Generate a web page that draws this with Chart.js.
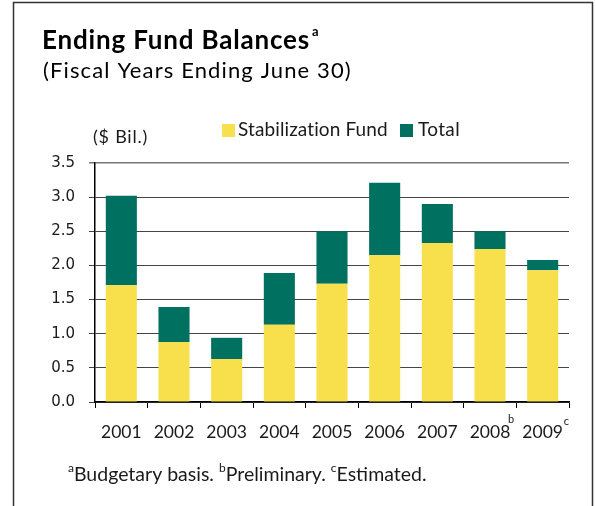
<!DOCTYPE html>
<html>
<head>
<meta charset="utf-8">
<script src="https://cdn.jsdelivr.net/npm/chart.js@4"></script>
<style>
  html, body { margin: 0; padding: 0; background: #fff; }
  #wrap { width: 596px; height: 506px; position: relative; }
</style>
</head>
<body>
<div id="wrap"><canvas id="chart" width="596" height="506"></canvas></div>
<script>
(function() {
    'use strict';

    var years = ['2001', '2002', '2003', '2004', '2005', '2006', '2007', '2008', '2009'];
    var yearNotes = ['', '', '', '', '', '', '', 'b', 'c'];
    var stabilization = [1.71, 0.88, 0.63, 1.13, 1.73, 2.15, 2.33, 2.24, 1.93];
    var total = [3.02, 1.39, 0.94, 1.89, 2.50, 3.21, 2.90, 2.50, 2.08];
    var yTicks = [0, 0.5, 1.0, 1.5, 2.0, 2.5, 3.0, 3.5];

    var YELLOW = '#F8E04C';
    var GREEN = '#007060';
    var TEXT = '#1a1a1a';
    var SANS = 'Lato, "DejaVu Sans", sans-serif';

    // green part sits on top of the yellow one, up to the total
    var remainder = total.map(function(t, i) {
        return Math.round((t - stabilization[i]) * 100) / 100;
    });

    // draw text with its letter spacing stretched to a given width
    function fitText(ctx, text, x, y, width) {
        ctx.letterSpacing = '0px';
        var w = ctx.measureText(text).width;
        var sp = (width - w) / text.length;
        ctx.letterSpacing = sp.toFixed(2) + 'px';
        ctx.fillText(text, x, y);
        var out = ctx.measureText(text).width;
        ctx.letterSpacing = '0px';
        return out;
    }

    var decor = {
        id: 'decor',
        afterDraw: function(chart) {
            var ctx = chart.ctx;
            ctx.save();

            // frame (open at the bottom)
            ctx.strokeStyle = '#333';
            ctx.lineWidth = 1.5;
            ctx.beginPath();
            ctx.moveTo(13.5, 520);
            ctx.lineTo(13.5, 2.5);
            ctx.lineTo(592.5, 2.5);
            ctx.lineTo(592.5, 520);
            ctx.stroke();

            ctx.fillStyle = '#000';
            ctx.textBaseline = 'alphabetic';
            ctx.textAlign = 'left';

            ctx.font = 'bold 26px ' + SANS;
            fitText(ctx, 'Ending Fund Balances', 42, 49, 268);
            ctx.font = 'bold 13px ' + SANS;
            ctx.fillText('a', 312, 36);

            ctx.font = '22px ' + SANS;
            fitText(ctx, '(Fiscal Years Ending June 30)', 43, 78, 309);

            ctx.fillStyle = TEXT;
            ctx.font = '18px ' + SANS;
            fitText(ctx, '($ Bil.)', 93, 143, 55);

            // legend
            ctx.fillStyle = YELLOW;
            ctx.fillRect(222, 124, 13, 13);
            ctx.fillStyle = GREEN;
            ctx.fillRect(400, 124, 13, 13);
            ctx.fillStyle = TEXT;
            ctx.font = '19px ' + SANS;
            fitText(ctx, 'Stabilization Fund', 238, 136, 150);
            fitText(ctx, 'Total', 418, 136, 42);

            // superscripts on year labels
            var xs = chart.scales.x;
            ctx.font = '11px ' + SANS;
            years.forEach(function(y, i) {
                if (!yearNotes[i]) return;
                var cx = xs.getPixelForValue(i);
                ctx.fillText(yearNotes[i], cx + (i === 8 ? 21 : 18), yearNotes[i] === 'b' ? 423 : 425);
            });

            // footnote
            var x = 68;
            var parts = [['a', 'Budgetary basis. '], ['b', 'Preliminary. '], ['c', 'Estimated.']];
            parts.forEach(function(p) {
                ctx.font = '12px ' + SANS;
                ctx.fillText(p[0], x, 472);
                x += ctx.measureText(p[0]).width;
                ctx.font = '19.5px ' + SANS;
                ctx.fillText(p[1], x, 481);
                x += ctx.measureText(p[1]).width;
            });

            ctx.restore();
        }
    };

    var ctx = document.getElementById('chart').getContext('2d');
    new Chart(ctx, {
        type: 'bar',
        data: {
            labels: years,
            datasets: [{
                label: 'Stabilization Fund',
                data: stabilization,
                backgroundColor: YELLOW,
                barPercentage: 0.59,
                categoryPercentage: 1.0
            }, {
                label: 'Total',
                data: remainder,
                backgroundColor: GREEN,
                barPercentage: 0.59,
                categoryPercentage: 1.0
            }]
        },
        options: {
            responsive: false,
            animation: false,
            devicePixelRatio: 1,
            layout: { padding: { left: 0, top: 163, right: 27, bottom: 0 } },
            plugins: {
                legend: { display: false },
                tooltip: { enabled: false }
            },
            scales: {
                x: {
                    stacked: true,
                    grid: {
                        offset: true,
                        drawOnChartArea: false,
                        drawTicks: true,
                        tickLength: 6,
                        color: '#000'
                    },
                    border: { display: true, color: '#000', width: 1.5 },
                    ticks: {
                        color: TEXT,
                        padding: 14,
                        maxRotation: 0,
                        font: { family: SANS, size: 17.5 }
                    },
                    afterFit: function(scale) { scale.height = 104; }
                },
                y: {
                    stacked: true,
                    min: 0,
                    max: 3.5,
                    afterBuildTicks: function(scale) {
                        scale.ticks = yTicks.map(function(v) { return { value: v }; });
                    },
                    grid: {
                        color: function(c) { return c.tick && c.tick.value === 3.5 ? '#777' : '#444'; },
                        lineWidth: function(c) { return c.tick && c.tick.value === 3.5 ? 1.5 : 1; },
                        tickLength: 6,
                        drawTicks: true
                    },
                    border: { display: true, color: '#000', width: 1.5 },
                    ticks: {
                        color: TEXT,
                        padding: 14,
                        font: { family: '"DejaVu Sans", sans-serif', size: 15 },
                        callback: function(v) { return Number(v).toFixed(1); }
                    },
                    afterFit: function(scale) { scale.width = 95; }
                }
            }
        },
        plugins: [decor]
    });
})();
</script>
</body>
</html>
